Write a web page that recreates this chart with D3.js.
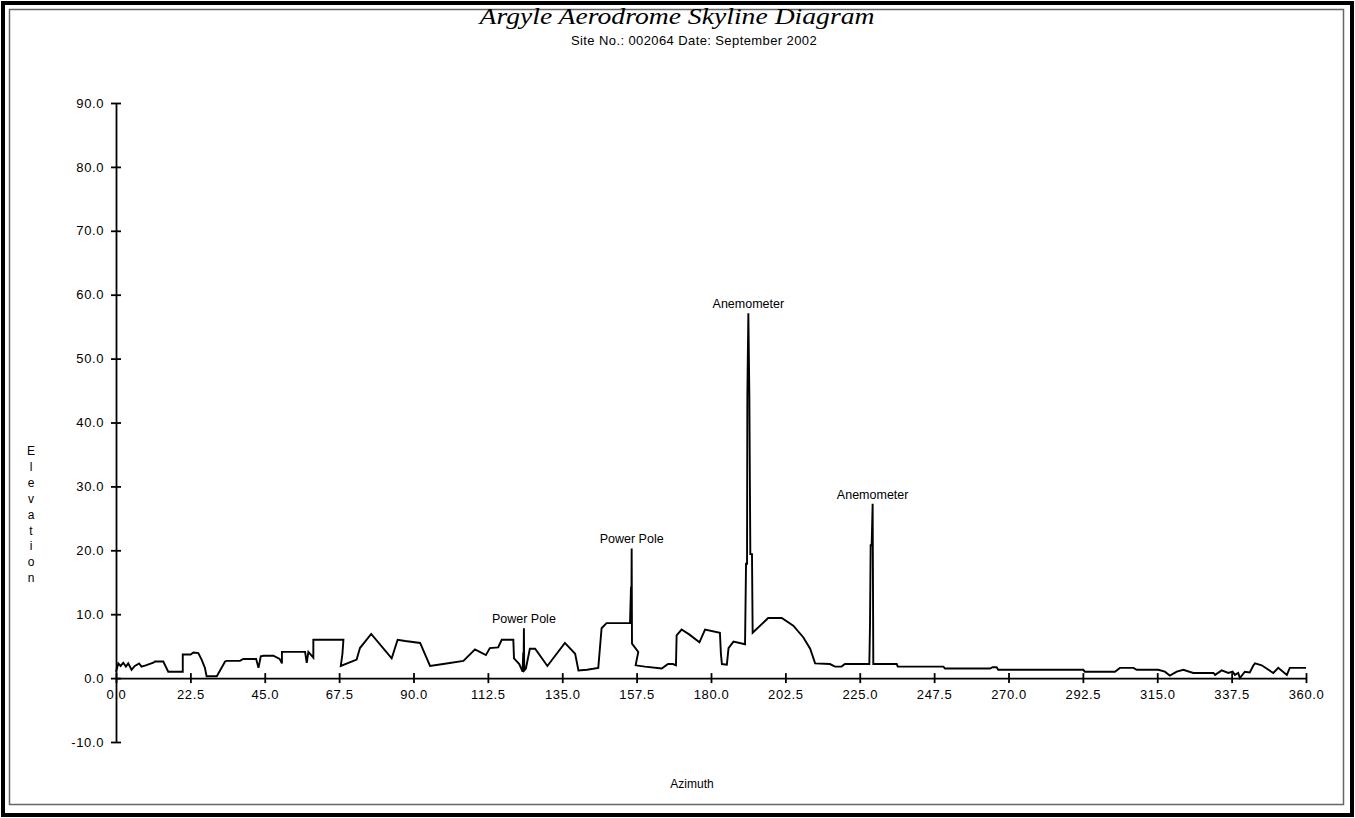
<!DOCTYPE html>
<html>
<head>
<meta charset="utf-8">
<script src="https://cdn.jsdelivr.net/npm/d3@7/dist/d3.min.js"></script>
<style>
  html, body { margin: 0; padding: 0; background: #fff; }
  svg { display: block; }
  text { font-family: "Liberation Sans", Arial, sans-serif; fill: #000; }
</style>
</head>
<body>
<svg id="chart" width="1355" height="818"></svg>
<script>
// ---- data ----
const azimuth = [0.0,0.7,1.4,2.2,3.0,3.7,4.7,5.7,7.0,7.7,9.0,11.3,11.8,14.3,15.8,20.2,20.2,22.6,23.4,24.9,25.9,26.9,27.4,30.5,33.0,33.5,37.5,38.5,42.4,43.1,43.8,44.6,47.6,49.5,50.2,50.2,57.2,57.7,58.2,59.7,59.7,68.8,68.5,68.0,72.8,73.8,77.2,83.4,85.2,87.5,92.0,95.0,99.0,105.1,108.6,111.9,113.1,115.6,116.7,120.2,120.4,122.0,123.0,123.2,123.3,123.4,123.5,124.0,125.2,126.8,130.5,135.8,138.9,139.9,142.5,145.9,146.9,148.4,155.5,155.8,155.9,156.0,156.1,158.0,157.2,160.0,165.1,167.0,168.5,169.4,169.6,171.1,173.5,176.5,178.2,182.7,183.0,183.3,184.8,185.3,186.8,190.3,190.6,190.9,191.0,191.3,191.6,191.9,192.4,192.6,197.3,201.4,204.9,207.9,210.0,211.5,216.0,217.5,219.5,220.5,227.9,228.1,228.3,228.6,228.9,229.1,236.2,236.5,250.3,250.8,264.4,265.2,266.4,266.9,292.6,293.1,302.2,303.7,307.8,308.8,315.3,317.3,318.8,320.9,322.9,325.9,332.0,332.5,334.5,336.5,337.8,338.5,339.5,340.0,341.5,343.0,344.1,344.6,346.6,350.1,351.6,354.2,355.1,360.0];
const elevation = [1.0,2.3,1.9,2.4,1.8,2.3,1.3,1.9,2.3,1.8,2.0,2.4,2.6,2.6,1.0,1.0,3.7,3.7,4.0,3.9,2.9,1.6,0.3,0.3,2.6,2.7,2.7,3.0,3.0,1.6,3.4,3.5,3.5,3.0,2.3,4.1,4.1,2.4,4.1,3.2,6.0,6.0,3.8,1.9,2.9,4.7,6.9,3.1,6.0,5.8,5.5,1.9,2.2,2.7,4.5,3.6,4.7,4.8,6.0,6.0,3.1,2.2,1.0,4.0,1.5,7.8,1.2,1.5,4.6,4.6,1.9,5.5,3.8,1.2,1.3,1.6,7.8,8.6,8.6,14.3,8.6,20.3,5.4,4.1,2.0,1.8,1.5,2.2,2.2,2.0,6.7,7.6,6.8,5.6,7.6,7.1,3.8,2.2,2.1,4.7,5.7,5.3,17.9,17.9,44.3,57.1,44.3,19.4,19.4,7.1,9.4,9.4,8.2,6.4,4.6,2.3,2.2,1.8,1.8,2.2,2.2,8.3,20.8,20.8,27.3,2.2,2.2,1.8,1.8,1.5,1.5,1.7,1.7,1.3,1.3,1.0,1.0,1.6,1.6,1.3,1.3,1.0,0.4,1.0,1.3,0.8,0.8,0.5,1.2,0.8,1.0,0.5,0.8,0.0,1.0,0.9,2.0,2.3,2.0,0.8,1.6,0.5,1.6,1.6];

const xTicks = [0,22.5,45,67.5,90,112.5,135,157.5,180,202.5,225,247.5,270,292.5,315,337.5,360];
const yTicks = [-10,0,10,20,30,40,50,60,70,80,90];

const noteText = ["Power Pole","Power Pole","Anemometer","Anemometer"];
const noteAzimuth = [123.4,156.0,191.3,228.9];
const noteElevation = [7.8,20.3,57.1,27.3];

const titleText = "Argyle Aerodrome Skyline Diagram";
const subtitleText = "Site No.: 002064 Date: September 2002";
const xTitle = "Azimuth";
const yTitle = "Elevation";

// ---- drawing ----
const svg = d3.select("#chart");
const fmt = d => d.toFixed(1);

// frames
svg.append("rect").attr("x", 3).attr("y", 3).attr("width", 1349).attr("height", 812)
  .attr("fill", "none").attr("stroke", "#000").attr("stroke-width", 4);
svg.append("rect").attr("x", 9.5).attr("y", 9.5).attr("width", 1334).attr("height", 795)
  .attr("fill", "none").attr("stroke", "#666").attr("stroke-width", 1.5);

const x = d3.scaleLinear().domain([0, 360]).range([116, 1306]);
const y = d3.scaleLinear().domain([-10, 90]).range([742, 103]);

// title
svg.append("text").attr("x", 677).attr("y", 24).attr("text-anchor", "middle")
  .style("font-family", "'Liberation Serif', 'Times New Roman', serif")
  .style("font-style", "italic").style("font-size", "23px")
  .attr("textLength", 395).attr("lengthAdjust", "spacingAndGlyphs").text(titleText);
svg.append("text").attr("x", 694).attr("y", 45).attr("text-anchor", "middle")
  .style("font-size", "13px").style("letter-spacing", "0.4px").text(subtitleText);

// y axis
const yAxis = d3.axisLeft(y).tickValues(yTicks).tickFormat(fmt).tickSizeInner(5).tickSizeOuter(0).tickPadding(7);
const gy = svg.append("g").attr("transform", `translate(${x(0)},0)`).call(yAxis);
gy.select(".domain").attr("stroke", "#000").attr("stroke-width", 1.8);
gy.selectAll(".tick line").attr("x1", 5).attr("x2", -5).attr("stroke", "#000").attr("stroke-width", 1.8);
gy.selectAll(".tick text").style("font-family", "'Liberation Sans', Arial, sans-serif").style("font-size", "13px").style("letter-spacing", "0.6px").attr("fill", "#000");

// x axis
const xAxis = d3.axisBottom(x).tickValues(xTicks).tickFormat(fmt).tickSizeInner(5).tickSizeOuter(0).tickPadding(7);
const gx = svg.append("g").attr("transform", `translate(0,${y(0)})`).call(xAxis);
gx.select(".domain").attr("stroke", "#000").attr("stroke-width", 1.8);
gx.selectAll(".tick line").attr("y1", -5).attr("y2", 5).attr("stroke", "#000").attr("stroke-width", 1.8);
gx.selectAll(".tick text").style("font-family", "'Liberation Sans', Arial, sans-serif").style("font-size", "13px").style("letter-spacing", "0.6px").attr("fill", "#000");

// axis titles
svg.append("text").attr("x", 692).attr("y", 788).attr("text-anchor", "middle").style("font-size", "12px").text(xTitle);
const yt = svg.append("text").attr("x", 31).attr("text-anchor", "middle").style("font-size", "12px");
yTitle.split("").forEach((c, i) => {
  yt.append("tspan").attr("x", 31).attr("y", 455 + i * 15.9).text(c);
});

// line
const pts = azimuth.map((a, i) => [a, elevation[i]]);
const line = d3.line().x(d => x(d[0])).y(d => y(d[1]));
svg.append("path").datum(pts).attr("d", line).attr("fill", "none").attr("stroke", "#000")
  .attr("stroke-width", 1.9).attr("stroke-linejoin", "miter");

// annotations
noteText.forEach((t, i) => {
  svg.append("text").attr("x", x(noteAzimuth[i])).attr("y", y(noteElevation[i]) - 5)
    .attr("text-anchor", "middle").style("font-size", "12.5px").text(t);
});
</script>
</body>
</html>
